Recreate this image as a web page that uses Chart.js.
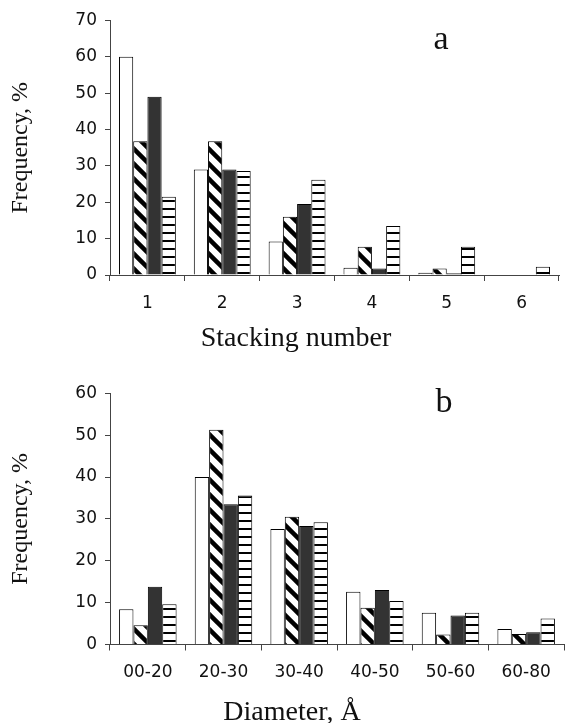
<!DOCTYPE html>
<html>
<head>
<meta charset="utf-8">
<title>Stacking number and diameter</title>
<script src="https://cdn.jsdelivr.net/npm/chart.js@4/dist/chart.umd.min.js"></script>
<style>
  body { margin: 0; background: #fff; }
  canvas { display: block; }
</style>
</head>
<body>
<canvas id="chartA" width="565" height="360"></canvas>
<canvas id="chartB" width="565" height="363"></canvas>
<script>
// panel a - stacking number
let stackLabels = ["1", "2", "3", "4", "5", "6"];
let stackWhite = [60, 29, 9.2, 2, 0.6, 0];
let stackDiag = [36.8, 36.8, 16, 7.8, 1.8, 0];
let stackDark = [49, 29, 19.5, 1.8, 0.5, 0];
let stackLines = [21.5, 28.6, 26.2, 13.5, 7.8, 2.3];
let stackTicks = [0, 10, 20, 30, 40, 50, 60, 70];

// panel b - diameter
let diamLabels = ["00-20", "20-30", "30-40", "40-50", "50-60", "60-80"];
let diamWhite = [8.4, 40, 27.6, 12.6, 7.6, 3.7];
let diamDiag = [4.6, 51.3, 30.5, 8.8, 2.4, 2.5];
let diamDark = [13.8, 33.5, 28.3, 13, 6.9, 2.9];
let diamLines = [9.6, 35.6, 29.2, 10.4, 7.6, 6.2];
let diamTicks = [0, 10, 20, 30, 40, 50, 60];

let seriesNames = ["Series 1", "Series 2", "Series 3", "Series 4"];

// hatch patterns
function diagPattern() {
  let s = 15;
  let c = document.createElement("canvas");
  c.width = s;
  c.height = s;
  let g = c.getContext("2d");
  g.fillStyle = "#fff";
  g.fillRect(0, 0, s, s);
  g.strokeStyle = "#000";
  g.lineWidth = 4.5;
  for (let k = -1; k <= 1; k++) {
    g.beginPath();
    g.moveTo(-2, k * s - 2);
    g.lineTo(s + 2, s + k * s + 2);
    g.stroke();
  }
  return g.createPattern(c, "repeat");
}

function linePattern() {
  let c = document.createElement("canvas");
  c.width = 8;
  c.height = 8;
  let g = c.getContext("2d");
  g.fillStyle = "#fff";
  g.fillRect(0, 0, 8, 8);
  g.fillStyle = "#000";
  g.fillRect(0, 0, 8, 2);
  return g.createPattern(c, "repeat");
}

let textColor = "#111";
let axisColor = "#444";

// draws the x title and the panel letter
let extraText = {
  id: "extraText",
  afterDraw(chart, args, opts) {
    let ctx = chart.ctx;
    ctx.save();
    ctx.fillStyle = textColor;
    ctx.textBaseline = "alphabetic";
    ctx.textAlign = "center";
    ctx.font = '28px "Liberation Serif"';
    ctx.fillText(opts.xTitle, opts.xTitleX, opts.xTitleY);
    ctx.font = '34px "Liberation Serif"';
    ctx.fillText(opts.letter, opts.letterX, opts.letterY);
    ctx.restore();
  }
};

function makeChart(canvasId, labels, white, diag, dark, lines, ticks, box, text) {
  let data = {
    labels: labels,
    datasets: [
      { label: seriesNames[0], data: white, backgroundColor: "#fff" },
      { label: seriesNames[1], data: diag, backgroundColor: diagPattern() },
      { label: seriesNames[2], data: dark, backgroundColor: "#333" },
      { label: seriesNames[3], data: lines, backgroundColor: linePattern() }
    ]
  };
  data.datasets.forEach(function (d) {
    d.borderColor = "#000";
    d.borderWidth = 1;
    d.categoryPercentage = 0.76;
    d.barPercentage = 1;
  });

  let config = {
    type: "bar",
    data: data,
    plugins: [extraText],
    options: {
      responsive: false,
      animation: false,
      devicePixelRatio: 1,
      layout: { padding: { top: box.top, right: box.right, left: 0, bottom: 0 } },
      plugins: {
        legend: { display: false },
        tooltip: { enabled: false },
        extraText: text
      },
      scales: {
        x: {
          grid: { drawOnChartArea: false, tickLength: 6, color: axisColor, offset: true },
          border: { color: axisColor, width: 1 },
          ticks: { color: textColor, padding: 12, maxRotation: 0, font: { family: "DejaVu Sans", size: 17 } },
          afterFit: function (scale) { scale.height = box.xHeight; }
        },
        y: {
          min: ticks[0],
          max: ticks[ticks.length - 1],
          afterBuildTicks: function (scale) {
            scale.ticks = ticks.map(function (v) { return { value: v }; });
          },
          grid: { drawOnChartArea: false, tickLength: 5, color: axisColor },
          border: { color: axisColor, width: 1 },
          ticks: { color: textColor, padding: 8, font: { family: "DejaVu Sans", size: 17 } },
          title: {
            display: true,
            text: "Frequency, %",
            color: textColor,
            padding: { top: 6.5, bottom: 0 },
            font: { family: "Liberation Serif", size: 24 }
          },
          afterFit: function (scale) { scale.width = 110; }
        }
      }
    }
  };
  return new Chart(document.getElementById(canvasId), config);
}

makeChart("chartA", stackLabels, stackWhite, stackDiag, stackDark, stackLines, stackTicks,
  { top: 20.5, right: 6, xHeight: 85 },
  { xTitle: "Stacking number", xTitleX: 296, xTitleY: 346, letter: "a", letterX: 441, letterY: 49 });

makeChart("chartB", diamLabels, diamWhite, diamDiag, diamDark, diamLines, diamTicks,
  { top: 33.3, right: 1, xHeight: 78.5 },
  { xTitle: "Diameter, Å", xTitleX: 292, xTitleY: 360, letter: "b", letterX: 444, letterY: 52 });
</script>
</body>
</html>
